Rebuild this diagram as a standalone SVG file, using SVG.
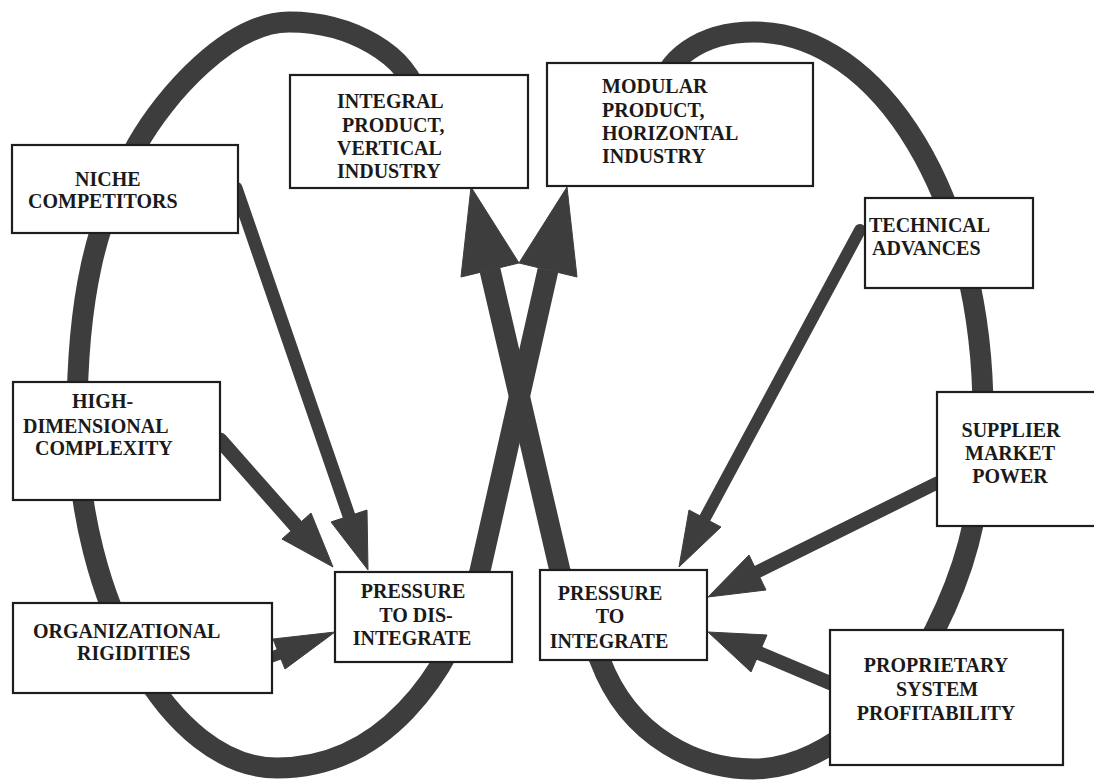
<svg xmlns="http://www.w3.org/2000/svg" width="1094" height="780" viewBox="0 0 1094 780">
<style>
.bg{fill:#ffffff}
.loop{fill:none;stroke:#3d3d3d;stroke-width:21;stroke-linejoin:round}
.shaft{fill:none;stroke:#3d3d3d;stroke-linecap:round}
.head{fill:#3d3d3d;stroke:#3d3d3d;stroke-width:1;stroke-linejoin:round}
.box{fill:#ffffff;stroke:#1e1e1e;stroke-width:2.2}
.t{font-family:"Liberation Serif","Times New Roman",serif;font-weight:bold;font-size:20px;fill:#1a1a1a}
.c{text-anchor:middle}
</style>
<rect class="bg" x="0" y="0" width="1094" height="780"/>
<g id="connectors">
  <path id="loop-left" class="loop" d="M418,100 C410,55 350,22 289,22 C230,22 165,95 137,145 C95,220 77,300 77,420 C77,600 170,768 277,768 C380,768 450,680 480,571 L548,270"/>
  <polygon class="head" points="567,187 577,277 519,263"/>
  <path id="loop-right" class="loop" d="M660,95 C664,60 700,32 754,32 C880,32 985,200 983,420 C983,520 960,580 935,630 C905,690 830,769 753,769 C700,769 630,740 600,660 L560,571 L490,270"/>
  <polygon class="head" points="471,187 519,263 461,277"/>
  <line class="shaft" x1="236" y1="188" x2="349" y2="516" stroke-width="13"/>
  <polygon class="head" points="368,570 367,510 331,522"/>
  <line class="shaft" x1="220" y1="440" x2="296" y2="526" stroke-width="15"/>
  <polygon class="head" points="333,567 311,513 282,539"/>
  <line class="shaft" x1="263" y1="660" x2="280" y2="654" stroke-width="11"/>
  <polygon class="head" points="335,632 285,669 273,639"/>
  <line class="shaft" x1="860" y1="230" x2="705" y2="518" stroke-width="12"/>
  <polygon class="head" points="679,567 721,527 689,510"/>
  <line class="shaft" x1="937" y1="483" x2="757" y2="572" stroke-width="13"/>
  <polygon class="head" points="708,597 766,590 749,555"/>
  <line class="shaft" x1="830" y1="683" x2="759" y2="653" stroke-width="14"/>
  <polygon class="head" points="708,632 767,635 751,672"/>
</g>
<g id="niche">
  <rect class="box" x="12" y="145" width="226" height="88"/>
  <text class="t" x="75" y="186">NICHE</text>
  <text class="t" x="28" y="208">COMPETITORS</text>
</g>
<g id="high">
  <rect class="box" x="13" y="382" width="207" height="118"/>
  <text class="t" x="72" y="408">HIGH-</text>
  <text class="t" x="23" y="433">DIMENSIONAL</text>
  <text class="t" x="35" y="455">COMPLEXITY</text>
</g>
<g id="org">
  <rect class="box" x="13" y="603" width="259" height="90"/>
  <text class="t" x="33" y="638">ORGANIZATIONAL</text>
  <text class="t" x="77" y="660">RIGIDITIES</text>
</g>
<g id="integral">
  <rect class="box" x="290" y="75" width="238" height="113"/>
  <text class="t" x="337" y="108">INTEGRAL</text>
  <text class="t" x="342" y="132">PRODUCT,</text>
  <text class="t" x="337" y="155">VERTICAL</text>
  <text class="t" x="337" y="178">INDUSTRY</text>
</g>
<g id="modular">
  <rect class="box" x="547" y="63" width="266" height="123"/>
  <text class="t" x="602" y="93">MODULAR</text>
  <text class="t" x="602" y="117">PRODUCT,</text>
  <text class="t" x="602" y="140">HORIZONTAL</text>
  <text class="t" x="602" y="163">INDUSTRY</text>
</g>
<g id="technical">
  <rect class="box" x="865" y="198" width="168" height="90"/>
  <text class="t" x="869" y="232">TECHNICAL</text>
  <text class="t" x="872" y="255">ADVANCES</text>
</g>
<g id="supplier">
  <rect class="box" x="937" y="392" width="165" height="134"/>
  <text class="t c" x="1011" y="437">SUPPLIER</text>
  <text class="t c" x="1010" y="460">MARKET</text>
  <text class="t c" x="1010" y="483">POWER</text>
</g>
<g id="proprietary">
  <rect class="box" x="830" y="630" width="233" height="135"/>
  <text class="t c" x="936" y="672">PROPRIETARY</text>
  <text class="t c" x="937" y="696">SYSTEM</text>
  <text class="t c" x="936" y="720">PROFITABILITY</text>
</g>
<g id="disintegrate">
  <rect class="box" x="335" y="572" width="177" height="90"/>
  <text class="t c" x="413" y="598">PRESSURE</text>
  <text class="t c" x="416" y="622">TO DIS-</text>
  <text class="t c" x="412" y="645">INTEGRATE</text>
</g>
<g id="integrate">
  <rect class="box" x="540" y="570" width="167" height="90"/>
  <text class="t c" x="610" y="600">PRESSURE</text>
  <text class="t c" x="610" y="623">TO</text>
  <text class="t c" x="609" y="648">INTEGRATE</text>
</g>
</svg>
